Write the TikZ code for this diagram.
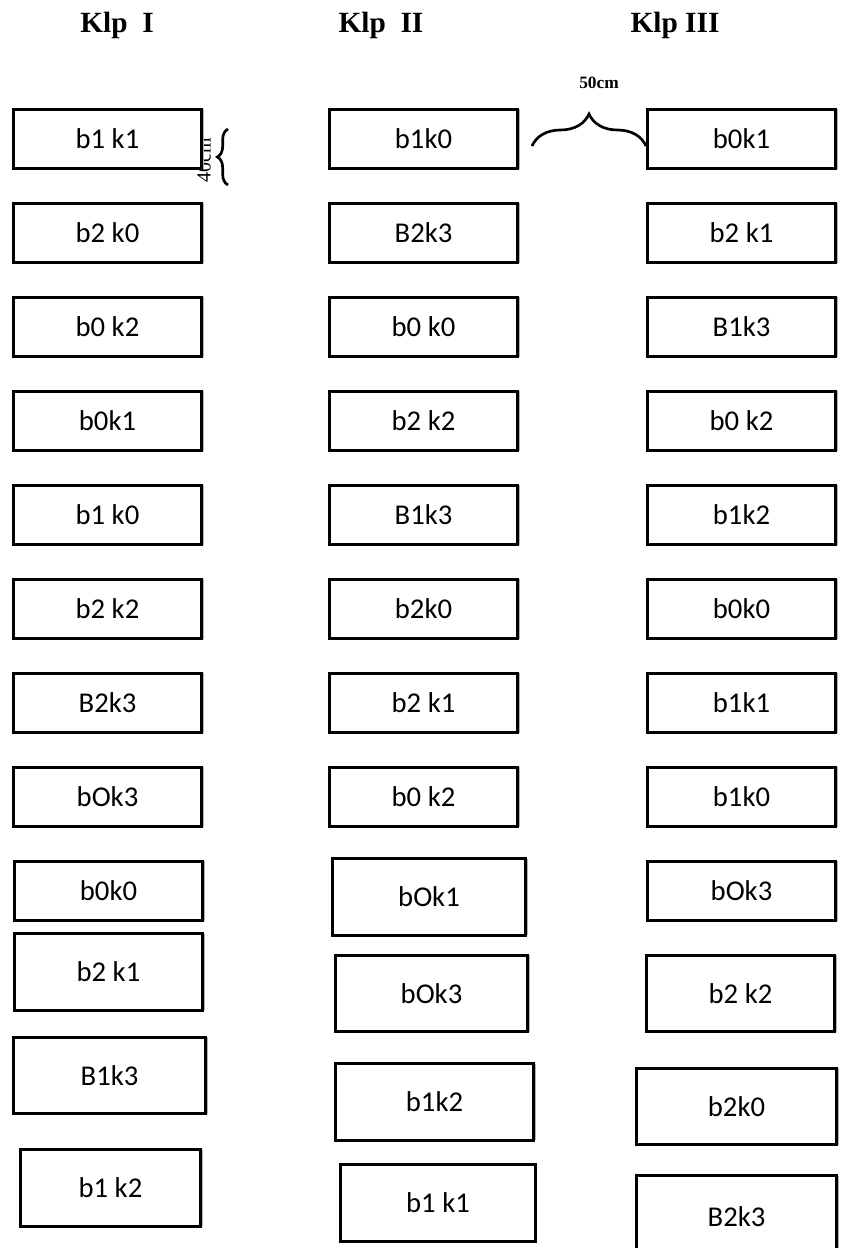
\documentclass[tikz,border=0pt]{standalone}
\usepackage{fontspec}
\setmainfont{Liberation Serif}
\newfontfamily\boxfont{Carlito}
\usetikzlibrary{decorations.pathreplacing,shadows}

\begin{document}
\begin{tikzpicture}[
  x=0.75pt,
  y=-0.75pt,
  bed/.style={
    draw,
    fill=white,
    line width=2.3pt,
    inner sep=0pt,
    minimum width=141pt,
    minimum height=44.5pt,
    font=\boxfont\fontsize{21.5}{25}\selectfont,
    drop shadow={shadow xshift=1.6pt, shadow yshift=0pt, fill=gray!60, opacity=1}
  },
  tallbed/.style={
    bed,
    minimum height=57.5pt,
    drop shadow={shadow xshift=0pt, shadow yshift=0pt, opacity=0}
  },
  head/.style={
    anchor=base,
    font=\bfseries\fontsize{22}{26}\selectfont
  },
  brc/.style={
    line width=2pt,
    decorate
  }
]
\useasboundingbox (0,0) rectangle (842,1248);
\node[head] (klpI) at (117,33) {Klp\ \ I};
\node[head] (klpII) at (381,33) {Klp\ \ II};
\node[head] (klpIII) at (675,33) {Klp III};
\node[anchor=base, font=\bfseries\fontsize{13}{15}\selectfont] (jarak) at (599,89) {50cm};
\node[rotate=90, font=\fontsize{15}{17}\selectfont] (lebar) at (204,160) {40cm};
\node[bed] (i1) at (107.5,139) {b1 k1};
\node[bed] (i2) at (107.5,233) {b2 k0};
\node[bed] (i3) at (107.5,327) {b0 k2};
\node[bed] (i4) at (107.5,421) {b0k1};
\node[bed] (i5) at (107.5,515) {b1 k0};
\node[bed] (i6) at (107.5,609) {b2 k2};
\node[bed] (i7) at (107.5,703) {B2k3};
\node[bed] (i8) at (107.5,797) {bOk3};
\node[bed] (i9) at (108.5,891) {b0k0};
\node[tallbed] (i10) at (108.5,972) {b2 k1};
\node[tallbed, minimum width=144pt] (i11) at (109.5,1075.5) {B1k3};
\node[tallbed, minimum width=135pt] (i12) at (110.5,1188) {b1 k2};
\node[bed] (ii1) at (423.5,139) {b1k0};
\node[bed] (ii2) at (423.5,233) {B2k3};
\node[bed] (ii3) at (423.5,327) {b0 k0};
\node[bed] (ii4) at (423.5,421) {b2 k2};
\node[bed] (ii5) at (423.5,515) {B1k3};
\node[bed] (ii6) at (423.5,609) {b2k0};
\node[bed] (ii7) at (423.5,703) {b2 k1};
\node[bed] (ii8) at (423.5,797) {b0 k2};
\node[tallbed, minimum width=145pt] (ii9) at (429,897) {bOk1};
\node[tallbed, minimum width=144pt] (ii10) at (431.5,993.5) {bOk3};
\node[tallbed, minimum width=148.5pt] (ii11) at (434.5,1102) {b1k2};
\node[tallbed, minimum width=146pt] (ii12) at (438,1203) {b1 k1};
\node[bed] (iii1) at (741.5,139) {b0k1};
\node[bed] (iii2) at (741.5,233) {b2 k1};
\node[bed] (iii3) at (741.5,327) {B1k3};
\node[bed] (iii4) at (741.5,421) {b0 k2};
\node[bed] (iii5) at (741.5,515) {b1k2};
\node[bed] (iii6) at (741.5,609) {b0k0};
\node[bed] (iii7) at (741.5,703) {b1k1};
\node[bed] (iii8) at (741.5,797) {b1k0};
\node[bed] (iii9) at (741.5,891) {bOk3};
\node[tallbed] (iii10) at (740.5,993.5) {b2 k2};
\node[tallbed, minimum width=150pt] (iii11) at (736.5,1106.5) {b2k0};
\node[tallbed, minimum width=150pt, minimum height=62pt] (iii12) at (736.5,1217) {B2k3};
\coordinate (vb1) at (228,185);
\coordinate (vb2) at (228,129);
\draw[brc, decoration={brace, amplitude=8pt}] (vb1) -- (vb2);
\coordinate (hb1) at (532,146);
\coordinate (hb2) at (646,146);
\draw[brc, decoration={brace, amplitude=24pt, aspect=0.5}] (hb1) -- (hb2);
\end{tikzpicture}
\end{document}
